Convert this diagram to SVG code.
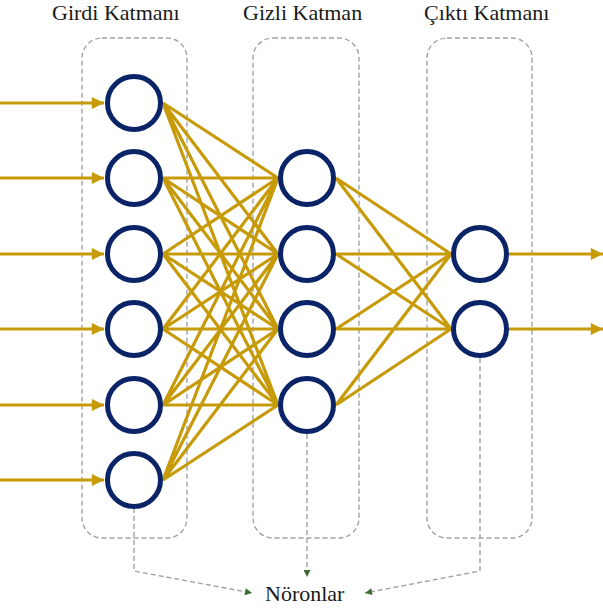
<svg xmlns="http://www.w3.org/2000/svg" width="603" height="609" viewBox="0 0 603 609">
  <style>
    .title { font-family: "Liberation Serif", "Times New Roman", serif; font-size: 22px; fill: #1a1a1a; }
    .layer { fill: none; stroke: #a3a3a3; stroke-width: 1.4; stroke-dasharray: 5 3; }
    .neuron { fill: #ffffff; stroke: #0b2468; stroke-width: 5; }
    .link { stroke: #c79a08; stroke-width: 3.2; fill: none; }
    .io { stroke: #c79a08; stroke-width: 3.2; fill: none; marker-end: url(#goldHead); }
    .pointer { stroke: #a3a3a3; stroke-width: 1.4; stroke-dasharray: 5 3; fill: none; marker-end: url(#greenHead); }
  </style>
  <defs>
    <marker id="goldHead" viewBox="0 0 10 10" refX="10" refY="5" markerWidth="4.2" markerHeight="3.8" orient="auto" markerUnits="strokeWidth">
      <path d="M0,0 L10,5 L0,10 z" fill="#c79a08"/>
    </marker>
    <marker id="greenHead" viewBox="0 0 10 10" refX="10" refY="5" markerWidth="6" markerHeight="5" orient="auto" markerUnits="strokeWidth">
      <path d="M0,0 L10,5 L0,10 z" fill="#3d6b30"/>
    </marker>
  </defs>

  <rect width="603" height="609" fill="#ffffff"/>

  <!-- layer titles -->
  <text class="title" x="52" y="20">Girdi Katmanı</text>
  <text class="title" x="243" y="20">Gizli Katman</text>
  <text class="title" x="424" y="20">Çıktı Katmanı</text>

  <!-- layer frames -->
  <g id="layer-input"><rect class="layer" x="82" y="38" width="105" height="500" rx="20"/></g>
  <g id="layer-hidden"><rect class="layer" x="253" y="38" width="106" height="500" rx="20"/></g>
  <g id="layer-output"><rect class="layer" x="427" y="38" width="105" height="500" rx="20"/></g>

  <g id="connectors">
    <!-- inputs -->
    <line class="io" x1="0" y1="103" x2="104" y2="103"/>
    <line class="io" x1="0" y1="178" x2="104" y2="178"/>
    <line class="io" x1="0" y1="254" x2="104" y2="254"/>
    <line class="io" x1="0" y1="329" x2="104" y2="329"/>
    <line class="io" x1="0" y1="405" x2="104" y2="405"/>
    <line class="io" x1="0" y1="480" x2="104" y2="480"/>
    <!-- input to hidden -->
    <path class="link" d="M163,103 L278,178 M163,103 L278,254 M163,103 L278,329 M163,103 L278,405
      M163,178 L278,178 M163,178 L278,254 M163,178 L278,329 M163,178 L278,405
      M163,254 L278,178 M163,254 L278,254 M163,254 L278,329 M163,254 L278,405
      M163,329 L278,178 M163,329 L278,254 M163,329 L278,329 M163,329 L278,405
      M163,405 L278,178 M163,405 L278,254 M163,405 L278,329 M163,405 L278,405
      M163,480 L278,178 M163,480 L278,254 M163,480 L278,329 M163,480 L278,405"/>
    <!-- hidden to output -->
    <path class="link" d="M336,178 L451,254 M336,178 L451,329
      M336,254 L451,254 M336,254 L451,329
      M336,329 L451,254 M336,329 L451,329
      M336,405 L451,254 M336,405 L451,329"/>
    <!-- outputs -->
    <line class="io" x1="509" y1="254" x2="603" y2="254"/>
    <line class="io" x1="509" y1="329" x2="603" y2="329"/>
    <!-- neuron pointers -->
    <path class="pointer" d="M134,508 L134,571 L252,593"/>
    <path class="pointer" d="M307,434 L307,577"/>
    <path class="pointer" d="M480,358 L480,571 L365,593"/>
  </g>

  <g id="input-neurons">
    <circle class="neuron" cx="134" cy="103" r="26.5"/>
    <circle class="neuron" cx="134" cy="178" r="26.5"/>
    <circle class="neuron" cx="134" cy="254" r="26.5"/>
    <circle class="neuron" cx="134" cy="329" r="26.5"/>
    <circle class="neuron" cx="134" cy="405" r="26.5"/>
    <circle class="neuron" cx="134" cy="480" r="26.5"/>
  </g>
  <g id="hidden-neurons">
    <circle class="neuron" cx="307" cy="178" r="26.5"/>
    <circle class="neuron" cx="307" cy="254" r="26.5"/>
    <circle class="neuron" cx="307" cy="329" r="26.5"/>
    <circle class="neuron" cx="307" cy="405" r="26.5"/>
  </g>
  <g id="output-neurons">
    <circle class="neuron" cx="480" cy="254" r="26.5"/>
    <circle class="neuron" cx="480" cy="329" r="26.5"/>
  </g>

  <g id="neurons-label">
    <text class="title" x="265" y="601">Nöronlar</text>
  </g>
</svg>
